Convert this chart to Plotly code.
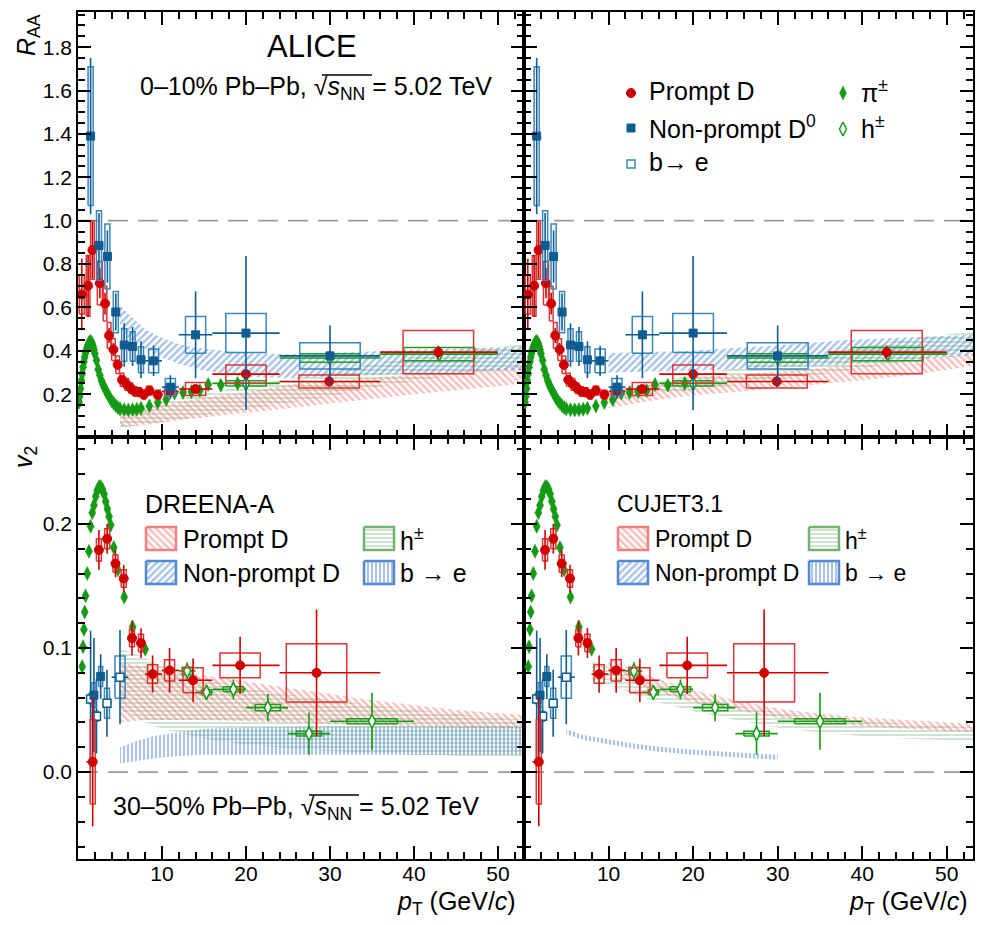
import numpy as np
import plotly.graph_objects as go

# ===================== DATA =====================
# Prompt D R_AA, 0-10% Pb-Pb
pd_raa_pt = [0.45, 1.2, 1.72, 2.6, 3.22, 3.7, 4.22, 4.72, 5.24, 5.78, 6.28, 6.78, 7.3, 7.82, 8.5, 9.5, 10.9, 14.0, 20.0, 29.9, 42.9]
pd_raa_lo = [0, 1, 1.5, 2, 3, 3.5, 4, 4.5, 5, 5.5, 6, 6.5, 7, 7.5, 8, 9, 10, 12, 16, 24, 36]
pd_raa_hi = [1, 1.5, 2, 3, 3.5, 4, 4.5, 5, 5.5, 6, 6.5, 7, 7.5, 8, 9, 10, 12, 16, 24, 36, 50]
pd_raa = [0.66, 0.70, 0.865, 0.712, 0.618, 0.471, 0.406, 0.336, 0.267, 0.246, 0.228, 0.213, 0.21, 0.198, 0.217, 0.198, 0.213, 0.224, 0.293, 0.259, 0.394]
pd_raa_stat = [0.165, 0.14, 0.13, 0.07, 0.05, 0.035, 0.03, 0.025, 0.02, 0.018, 0.016, 0.015, 0.015, 0.015, 0.015, 0.017, 0.015, 0.015, 0.02, 0.025, 0.03]
pd_raa_syst = [0.09, 0.14, 0.135, 0.1, 0.08, 0.06, 0.05, 0.04, 0.03, 0.027, 0.024, 0.022, 0.02, 0.02, 0.02, 0.02, 0.02, 0.03, 0.042, 0.03, 0.1]

# Non-prompt D0 R_AA
np_raa_pt = [1.5, 2.5, 3.5, 4.5, 5.5, 6.5, 7.5, 9.0, 11.0, 14.0, 20.0, 30.0]
np_raa_lo = [1, 2, 3, 4, 5, 6, 7, 8, 10, 12, 16, 24]
np_raa_hi = [2, 3, 4, 5, 6, 7, 8, 10, 12, 16, 24, 36]
np_raa = [1.39, 0.886, 0.835, 0.579, 0.427, 0.42, 0.359, 0.354, 0.233, 0.474, 0.482, 0.377]
np_raa_stat = [0.36, 0.15, 0.12, 0.085, 0.1, 0.09, 0.085, 0.07, 0.055, 0.2, 0.355, 0.14]
np_raa_syst = [0.32, 0.16, 0.15, 0.095, 0.075, 0.068, 0.06, 0.055, 0.04, 0.085, 0.09, 0.06]

# pi+- R_AA
pi_raa_pt = [0.12, 0.2, 0.3, 0.4, 0.5, 0.6, 0.7, 0.8, 0.9, 1.0, 1.1, 1.2, 1.3, 1.4, 1.5, 1.6, 1.7, 1.8, 1.9, 2.0,
             2.2, 2.4, 2.6, 2.8, 3.0, 3.2, 3.4, 3.6, 3.8, 4.0, 4.25, 4.5, 4.75, 5.0, 5.5, 6.0, 6.5, 7.0, 7.5,
             8.5, 9.5, 10.5, 11.5, 12.5, 13.5, 14.5, 15.5, 17.0, 19.0]
pi_raa = [0.162, 0.19, 0.225, 0.262, 0.295, 0.325, 0.35, 0.372, 0.39, 0.405, 0.418, 0.428, 0.436, 0.441, 0.443, 0.44, 0.432, 0.42, 0.405, 0.388,
          0.357, 0.315, 0.288, 0.262, 0.243, 0.226, 0.211, 0.197, 0.183, 0.17, 0.158, 0.147, 0.139, 0.133, 0.129, 0.128, 0.129, 0.131, 0.135,
          0.146, 0.162, 0.176, 0.205, 0.208, 0.212, 0.217, 0.245, 0.242, 0.25]

# h+- R_AA
h_raa_pt = [20.0, 30.0, 43.0]
h_raa_lo = [16, 24, 36]
h_raa_hi = [24, 36, 50]
h_raa = [0.25, 0.367, 0.385]
h_raa_stat = [0.005, 0.01, 0.03]
h_raa_syst = [0.012, 0.02, 0.031]

# Prompt D v2, 30-50% Pb-Pb
pd_v2_pt = [1.75, 2.49, 3.47, 4.46, 5.44, 6.43, 7.5, 8.88, 10.9, 13.7, 19.3, 28.4]
pd_v2_lo = [1, 2, 3, 4, 5, 6, 7, 8, 10, 12, 16, 24]
pd_v2_hi = [2, 3, 4, 5, 6, 7, 8, 10, 12, 16, 24, 36]
pd_v2 = [0.0083, 0.179, 0.188, 0.168, 0.156, 0.108, 0.104, 0.079, 0.082, 0.074, 0.086, 0.080]
pd_v2_stat = [0.052, 0.016, 0.012, 0.011, 0.011, 0.014, 0.012, 0.015, 0.018, 0.0175, 0.023, 0.051]
pd_v2_syst = [0.034, 0.009, 0.008, 0.007, 0.007, 0.007, 0.007, 0.0075, 0.0085, 0.01, 0.01, 0.0235]

# Non-prompt D0 v2
np_v2_pt = [1.9, 2.7]
np_v2_lo = [1.5, 2.3]
np_v2_hi = [2.3, 3.1]
np_v2 = [0.062, 0.077]
np_v2_stat = [0.046, 0.018]
np_v2_syst = [0.01, 0.008]

# b -> e v2
be_v2_pt = [1.5, 2.2, 3.45, 5.0]
be_v2_lo = [1.3, 2.0, 3.0, 4.0]
be_v2_hi = [2.0, 2.5, 4.0, 6.0]
be_v2 = [0.059, 0.045, 0.0555, 0.0765]
be_v2_stat = [0.055, 0.03, 0.027, 0.038]
be_v2_syst = [0.004, 0.004, 0.012, 0.017]

# pi+- v2
pi_v2_pt = [0.5, 0.6, 0.7, 0.8, 0.9, 1.1, 1.3, 1.5, 1.7, 1.9, 2.1, 2.3, 2.5, 2.7, 2.9, 3.1, 3.3, 3.5, 3.7, 3.9, 4.25, 4.75, 5.5, 6.5, 8.0]
pi_v2 = [0.085, 0.101, 0.115, 0.129, 0.142, 0.160, 0.178, 0.198, 0.209, 0.215, 0.222, 0.227, 0.230, 0.230, 0.228, 0.224, 0.218, 0.212, 0.206, 0.199, 0.181, 0.163, 0.141, 0.117, 0.099]

# h+- v2
h_v2_pt = [13.0, 15.3, 18.5, 22.6, 27.5, 35.0]
h_v2_lo = [12, 14, 16, 20, 25, 30]
h_v2_hi = [14, 16, 20, 25, 30, 40]
h_v2 = [0.0815, 0.0643, 0.0667, 0.052, 0.031, 0.041]
h_v2_stat = [0.007, 0.006, 0.008, 0.011, 0.017, 0.023]
h_v2_syst = [0.003, 0.002, 0.002, 0.0025, 0.002, 0.002]

# ---- model bands: DREENA-A ----
dr_pd_raa_pt = [5, 8, 12, 16, 20, 26, 33, 40, 47, 53.1]
dr_pd_raa_lo = [0.05, 0.06, 0.08, 0.10, 0.115, 0.14, 0.17, 0.2, 0.225, 0.25]
dr_pd_raa_hi = [0.12, 0.14, 0.165, 0.19, 0.21, 0.25, 0.27, 0.29, 0.31, 0.33]
dr_np_raa_pt = [5, 6, 8, 10, 12, 15, 20, 25, 30, 40, 53.1]
dr_np_raa_lo = [0.5, 0.46, 0.41, 0.37, 0.34, 0.31, 0.28, 0.275, 0.28, 0.295, 0.31]
dr_np_raa_hi = [0.61, 0.57, 0.5, 0.46, 0.43, 0.41, 0.39, 0.385, 0.39, 0.405, 0.42]
dr_h_raa_pt = [5, 8, 12, 16, 20, 25, 30, 35, 40, 45, 53.1]
dr_h_raa_lo = [0.045, 0.06, 0.08, 0.11, 0.13, 0.16, 0.19, 0.23, 0.26, 0.29, 0.33]
dr_h_raa_hi = [0.13, 0.15, 0.18, 0.21, 0.24, 0.27, 0.30, 0.34, 0.37, 0.40, 0.43]

dr_pd_v2_pt = [5, 8, 10, 15, 20, 25, 30, 35, 40, 45, 53.1]
dr_pd_v2_lo = [0.04, 0.042, 0.042, 0.042, 0.041, 0.04, 0.039, 0.038, 0.037, 0.036, 0.035]
dr_pd_v2_hi = [0.088, 0.085, 0.082, 0.078, 0.073, 0.068, 0.063, 0.058, 0.054, 0.05, 0.046]
dr_h_v2_pt = [5, 8, 10, 15, 20, 30, 40, 53.1]
dr_h_v2_lo = [0.05, 0.04, 0.035, 0.027, 0.022, 0.017, 0.014, 0.012]
dr_h_v2_hi = [0.1, 0.092, 0.085, 0.075, 0.068, 0.058, 0.05, 0.042]
dr_be_v2_pt = [5, 7, 9, 12, 15, 20, 30, 40, 53.1]
dr_be_v2_lo = [0.007, 0.009, 0.011, 0.013, 0.014, 0.014, 0.014, 0.014, 0.014]
dr_be_v2_hi = [0.02, 0.025, 0.029, 0.032, 0.035, 0.036, 0.037, 0.037, 0.037]

# ---- model bands: CUJET3.1 ----
cj_pd_raa_pt = [10, 15, 20, 25, 30, 35, 40, 46, 53.1]
cj_pd_raa_lo = [0.135, 0.17, 0.195, 0.21, 0.228, 0.245, 0.265, 0.29, 0.33]
cj_pd_raa_hi = [0.205, 0.245, 0.28, 0.29, 0.305, 0.32, 0.34, 0.36, 0.385]
cj_np_raa_pt = [10, 15, 20, 25, 30, 38, 45, 53.1]
cj_np_raa_lo = [0.30, 0.305, 0.31, 0.315, 0.325, 0.336, 0.355, 0.38]
cj_np_raa_hi = [0.39, 0.395, 0.40, 0.414, 0.425, 0.45, 0.46, 0.474]
cj_h_raa_pt = [10, 15, 20, 25, 30, 35, 40, 45, 50, 53.1]
cj_h_raa_lo = [0.17, 0.2, 0.22, 0.24, 0.27, 0.29, 0.32, 0.35, 0.38, 0.40]
cj_h_raa_hi = [0.21, 0.25, 0.29, 0.32, 0.35, 0.38, 0.42, 0.45, 0.475, 0.49]

cj_pd_v2_pt = [10, 12, 15, 20, 25, 30, 35, 40, 45, 53.1]
cj_pd_v2_lo = [0.08, 0.074, 0.066, 0.056, 0.05, 0.044, 0.04, 0.037, 0.035, 0.032]
cj_pd_v2_hi = [0.092, 0.085, 0.077, 0.066, 0.058, 0.051, 0.047, 0.044, 0.042, 0.039]
cj_h_v2_pt = [8, 10, 15, 20, 25, 30, 35, 40, 45, 53.1]
cj_h_v2_lo = [0.075, 0.07, 0.058, 0.049, 0.042, 0.036, 0.032, 0.029, 0.027, 0.025]
cj_h_v2_hi = [0.09, 0.085, 0.072, 0.062, 0.054, 0.048, 0.044, 0.041, 0.039, 0.036]
cj_be_v2_pt = [5, 7, 10, 13, 16, 20, 25, 30]
cj_be_v2_lo = [0.0305, 0.026, 0.0225, 0.019, 0.0165, 0.014, 0.012, 0.010]
cj_be_v2_hi = [0.0345, 0.030, 0.0265, 0.023, 0.0205, 0.018, 0.016, 0.014]

# ===================== STYLE =====================
FONT = "Liberation Sans, Arial, sans-serif"
RED, RED_BOX = "#d00000", "#dc3535"
BLUE, BLUE_BOX = "#0e5c90", "#3a86be"
GREEN, GREEN_BOX = "#149a14", "#1f9e1f"
RED_H, BLUE_H, GREEN_H, BE_H = "#f08080", "#5289d0", "#72b272", "#5588cc"
HATCH_SOL = 0.5

# the page body has an 8 px margin: figure is placed at (8, 8) in the window
OFF = 8
W, H = 988 - OFF, 925 - OFF
L, R, T, B = 78, 973, 12, 859          # plot-area box in window pixels
XMID, YMID = 524, 437


def px(xp):
    return (xp - L) / (R - L)


def py(yp):
    return (B - yp) / (B - T)


fig = go.Figure()
AX = {(0, 0): ("x", "y"), (0, 1): ("x2", "y2"), (1, 0): ("x3", "y3"), (1, 1): ("x4", "y4")}


def band(pt, lo, hi, color, shape, panel, size=5, sol=HATCH_SOL):
    xa, ya = AX[panel]
    fig.add_trace(go.Scatter(
        x=list(pt) + list(pt)[::-1], y=list(hi) + list(lo)[::-1], mode="lines", fill="toself",
        line=dict(width=0, color=color), fillcolor="rgba(0,0,0,0)",
        fillpattern=dict(shape=shape, fgcolor=color, bgcolor="rgba(0,0,0,0)", size=size,
                         solidity=sol, fillmode="overlay"),
        xaxis=xa, yaxis=ya, showlegend=False, hoverinfo="skip"))


def boxes(pt, val, syst, lo, hi, color, panel, frac=0.3, minw=0.22, width=1.5):
    xa, ya = AX[panel]
    xs, ys = [], []
    for x, y, s, a, b in zip(pt, val, syst, lo, hi):
        w = max(frac * (b - a), minw)
        xs += [x - w, x + w, x + w, x - w, x - w, None]
        ys += [y - s, y - s, y + s, y + s, y - s, None]
    fig.add_trace(go.Scatter(x=xs, y=ys, mode="lines", line=dict(color=color, width=width),
                             xaxis=xa, yaxis=ya, showlegend=False, hoverinfo="skip"))


def points(pt, val, stat, lo, hi, color, symbol, size, fill, panel, lw=1.0, th=1.6):
    xa, ya = AX[panel]
    ex = dict(type="data", array=[b - x for x, b in zip(pt, hi)],
              arrayminus=[x - a for x, a in zip(pt, lo)], color=color, thickness=th, width=0) if lo else None
    ey = dict(type="data", array=stat, color=color, thickness=th, width=0) if stat else None
    fig.add_trace(go.Scatter(x=pt, y=val, mode="markers",
                             marker=dict(symbol=symbol, size=size, color=fill, line=dict(color=color, width=lw)),
                             error_x=ex, error_y=ey, xaxis=xa, yaxis=ya, showlegend=False, hoverinfo="skip"))


for col in (0, 1):
    top, bot = (0, col), (1, col)
    if col == 0:
        band(dr_h_raa_pt, dr_h_raa_lo, dr_h_raa_hi, GREEN_H, "-", top, 4, 0.35)
        band(dr_pd_raa_pt, dr_pd_raa_lo, dr_pd_raa_hi, RED_H, "\\", top)
        band(dr_np_raa_pt, dr_np_raa_lo, dr_np_raa_hi, BLUE_H, "/", top)
        band(dr_h_v2_pt, dr_h_v2_lo, dr_h_v2_hi, GREEN_H, "-", bot, 4, 0.35)
        band(dr_pd_v2_pt, dr_pd_v2_lo, dr_pd_v2_hi, RED_H, "\\", bot)
        band(dr_be_v2_pt, dr_be_v2_lo, dr_be_v2_hi, BE_H, "|", bot, 4, 0.55)
    else:
        band(cj_h_raa_pt, cj_h_raa_lo, cj_h_raa_hi, GREEN_H, "-", top, 4, 0.35)
        band(cj_pd_raa_pt, cj_pd_raa_lo, cj_pd_raa_hi, RED_H, "\\", top)
        band(cj_np_raa_pt, cj_np_raa_lo, cj_np_raa_hi, BLUE_H, "/", top)
        band(cj_h_v2_pt, cj_h_v2_lo, cj_h_v2_hi, GREEN_H, "-", bot, 4, 0.35)
        band(cj_pd_v2_pt, cj_pd_v2_lo, cj_pd_v2_hi, RED_H, "\\", bot)
        band(cj_be_v2_pt, cj_be_v2_lo, cj_be_v2_hi, BE_H, "|", bot, 4, 0.55)

    # R_AA data
    points(pi_raa_pt, pi_raa, None, None, None, GREEN, "diamond-tall", 10, GREEN, top, 0.5)
    boxes(h_raa_pt, h_raa, h_raa_syst, h_raa_lo, h_raa_hi, GREEN_BOX, top)
    points(h_raa_pt, h_raa, h_raa_stat, h_raa_lo, h_raa_hi, GREEN, "diamond-tall", 10, "white", top, 1.5)
    boxes(pd_raa_pt, pd_raa, pd_raa_syst, pd_raa_lo, pd_raa_hi, RED_BOX, top)
    points(pd_raa_pt, pd_raa, pd_raa_stat, pd_raa_lo, pd_raa_hi, RED, "circle", 9, RED, top)
    boxes(np_raa_pt, np_raa, np_raa_syst, np_raa_lo, np_raa_hi, BLUE_BOX, top)
    points(np_raa_pt, np_raa, np_raa_stat, np_raa_lo, np_raa_hi, BLUE, "square", 8, BLUE, top)

    # v2 data
    points(pi_v2_pt, pi_v2, None, None, None, GREEN, "diamond-tall", 10, GREEN, bot, 0.5)
    boxes(h_v2_pt, h_v2, h_v2_syst, h_v2_lo, h_v2_hi, GREEN_BOX, bot)
    points(h_v2_pt, h_v2, h_v2_stat, h_v2_lo, h_v2_hi, GREEN, "diamond-tall", 10, "white", bot, 1.5)
    boxes(be_v2_pt, be_v2, be_v2_syst, be_v2_lo, be_v2_hi, BLUE_BOX, bot)
    points(be_v2_pt, be_v2, be_v2_stat, be_v2_lo, be_v2_hi, BLUE, "square", 8, "white", bot, 1.5)
    boxes(np_v2_pt, np_v2, np_v2_syst, np_v2_lo, np_v2_hi, BLUE_BOX, bot)
    points(np_v2_pt, np_v2, np_v2_stat, np_v2_lo, np_v2_hi, BLUE, "square", 8, BLUE, bot)
    boxes(pd_v2_pt, pd_v2, pd_v2_syst, pd_v2_lo, pd_v2_hi, RED_BOX, bot)
    points(pd_v2_pt, pd_v2, pd_v2_stat, pd_v2_lo, pd_v2_hi, RED, "circle", 9, RED, bot)

# reference lines
for xa, ya, yv in (("x", "y", 1.0), ("x2", "y2", 1.0), ("x3", "y3", 0.0), ("x4", "y4", 0.0)):
    fig.add_shape(type="line", xref=f"{xa} domain", x0=0, x1=1, yref=ya, y0=yv, y1=yv,
                  line=dict(color="#9a9a9a", width=1.8, dash="20px,10px"), layer="below")

# ===================== AXES =====================
xmaj = [10, 20, 30, 40, 50]
xmin = [v for v in range(2, 54, 2) if v % 10]
ymaj_top = [0.2, 0.4, 0.6, 0.8, 1.0, 1.2, 1.4, 1.6, 1.8]
ymin_top = [round(v, 2) for v in np.arange(0.05, 1.96, 0.05) if abs(v / 0.2 - round(v / 0.2)) > 1e-6]
ymaj_bot = [0.0, 0.1, 0.2]
ymin_bot = [round(v, 2) for v in np.arange(-0.06, 0.27, 0.02) if abs(v / 0.1 - round(v / 0.1)) > 1e-6]


def axis(domain, anchor, rng, tv, mv, labels, fmt=None, standoff=0):
    d = dict(domain=domain, anchor=anchor, range=rng, tickmode="array", tickvals=tv,
             showticklabels=labels, ticks="inside", ticklen=13, tickwidth=1.5, tickcolor="black",
             showline=True, linewidth=1.5, linecolor="black", mirror="ticks",
             showgrid=False, zeroline=False, ticklabelstandoff=standoff,
             tickfont=dict(family=FONT, size=21, color="black"),
             minor=dict(tickmode="array", tickvals=mv, ticks="inside", ticklen=7, tickwidth=1.5,
                        tickcolor="black", showgrid=False))
    if fmt:
        d["tickformat"] = fmt
    return d


xs_ = px(XMID)
ys_ = py(YMID)
XR = [0, 53.1]
fig.update_layout(
    xaxis=axis([0, xs_], "y", XR, xmaj, xmin, False),
    xaxis2=axis([xs_, 1], "y2", XR, xmaj, xmin, False),
    xaxis3=axis([0, xs_], "y3", XR, xmaj, xmin, True, standoff=-5),
    xaxis4=axis([xs_, 1], "y4", XR, xmaj, xmin, True, standoff=-5),
    yaxis=axis([ys_, 1], "x", [0.003, 1.962], ymaj_top, ymin_top, True, ".1f"),
    yaxis2=axis([ys_, 1], "x2", [0.003, 1.962], ymaj_top, ymin_top, False),
    yaxis3=axis([0, ys_], "x3", [-0.07, 0.27], ymaj_bot, ymin_bot, True, ".1f"),
    yaxis4=axis([0, ys_], "x4", [-0.07, 0.27], ymaj_bot, ymin_bot, False),
    xaxis5=dict(domain=[0, 1], anchor="y5", range=[L, R], visible=False),
    yaxis5=dict(domain=[0, 1], anchor="x5", range=[B, T], visible=False),
    width=W, height=H,
    margin=dict(l=L - OFF, r=(W + OFF) - R, t=T - OFF, b=(H + OFF) - B, autoexpand=False),
    paper_bgcolor="white", plot_bgcolor="rgba(0,0,0,0)", showlegend=False,
    font=dict(family=FONT, color="black"),
)

# ===================== LEGENDS (overlay, window-pixel positions) =====================
def key_marker(x, y, symbol, size, color, fill, lw):
    fig.add_trace(go.Scatter(x=[x], y=[y], mode="markers", xaxis="x5", yaxis="y5",
                             marker=dict(symbol=symbol, size=size, color=fill, line=dict(color=color, width=lw)),
                             showlegend=False, hoverinfo="skip"))


def key_swatch(x0, y0, color, shape, size=5, sol=HATCH_SOL):
    x1, y1 = x0 + 30, y0 + 23
    fig.add_trace(go.Scatter(x=[x0, x1, x1, x0, x0], y=[y0, y0, y1, y1, y0], mode="lines", fill="toself",
                             xaxis="x5", yaxis="y5", line=dict(color=color, width=2.5),
                             fillcolor="rgba(0,0,0,0)",
                             fillpattern=dict(shape=shape, fgcolor=color, bgcolor="rgba(0,0,0,0)", size=size,
                                              solidity=sol, fillmode="overlay"),
                             showlegend=False, hoverinfo="skip"))


def text(x, y, s, size=25, xanchor="left", yanchor="middle", angle=0):
    fig.add_annotation(x=px(x), y=py(y), xref="paper", yref="paper", text=s, showarrow=False,
                       xanchor=xanchor, yanchor=yanchor, textangle=angle,
                       font=dict(family=FONT, size=size, color="black"))


def hline_px(x0, x1, y, w=1.3):
    fig.add_shape(type="line", xref="paper", yref="paper", x0=px(x0), x1=px(x1), y0=py(y), y1=py(y),
                  line=dict(color="black", width=w))


key_marker(631, 93, "circle", 9, RED, RED, 1)
key_marker(631, 128, "square", 8, BLUE, BLUE, 1)
key_marker(631, 164, "square", 8, BLUE_BOX, "white", 1.5)
key_marker(843, 93, "diamond-tall", 10, GREEN, GREEN, 0.5)
key_marker(843, 129, "diamond-tall", 10, GREEN, "white", 1.5)
text(647, 91, "Prompt D")
text(647, 127, "Non-prompt D<sup>0</sup>")
text(647, 162, "b\u2192 e")
text(859, 91, "\u03c0<sup>\u00b1</sup>")
text(859, 127, "h<sup>\u00b1</sup>")

for (x0, x1, title, fs) in ((146, 364, "DREENA-A", 25), (618, 809, "CUJET3.1", 23)):
    text(x0 - 3, 504, title, size=fs)
    key_swatch(x0, 527, RED_H, "\\")
    key_swatch(x0, 561, BLUE_H, "/")
    key_swatch(x1, 527, GREEN_H, "-", 4, 0.35)
    key_swatch(x1, 561, BE_H, "|", 4, 0.55)
    text(x0 + 35, 539, "Prompt D", size=fs)
    text(x0 + 35, 573, "Non-prompt D", size=fs)
    text(x1 + 34, 539, "h<sup>\u00b1</sup>", size=fs)
    text(x1 + 34, 573, "b \u2192 e", size=fs)

# titles / labels
text(312, 47, "ALICE", size=31, xanchor="center")
text(138, 88, "0\u201310% Pb\u2013Pb, \u221a<i>s</i><sub>NN</sub> = 5.02 TeV")
hline_px(322, 372, 75)
text(111, 808, "30\u201350% Pb\u2013Pb, \u221a<i>s</i><sub>NN</sub> = 5.02 TeV")
hline_px(309, 359, 795)
text(28, 12, "<i>R</i><sub>AA</sub>", angle=-90, xanchor="center", yanchor="top")
text(25, 444, "<i>v</i><sub>2</sub>", angle=-90, xanchor="center", yanchor="top")
text(518, 903, "<i>p</i><sub>T</sub> (GeV/<i>c</i>)", xanchor="right")
text(970, 903, "<i>p</i><sub>T</sub> (GeV/<i>c</i>)", xanchor="right")

fig.write_html("out.html")
